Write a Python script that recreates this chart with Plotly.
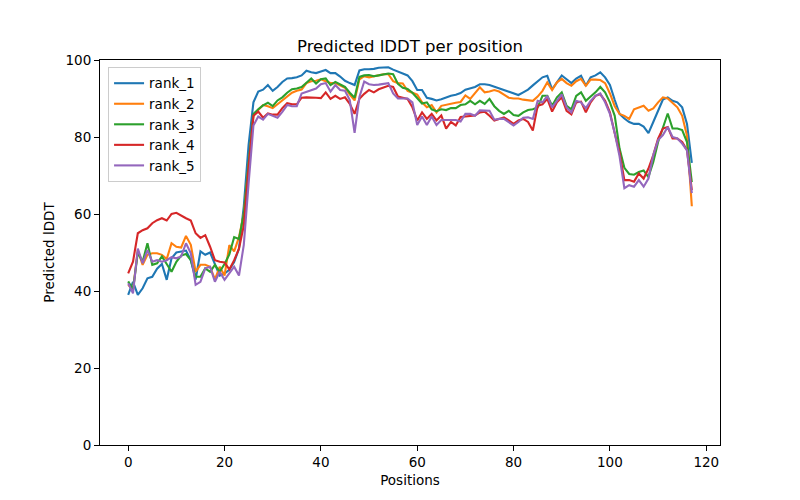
import plotly.graph_objects as go

positions = list(range(118))

rank_1 = [39.0, 42.4, 39.0, 40.7, 43.3, 43.7, 45.8, 47.0, 42.9, 48.5,
          50.0, 50.3, 50.5, 48.0, 43.0, 50.3, 49.4, 50.0, 47.0, 44.0,
          44.5, 45.5, 47.5, 51.0, 62.0, 78.0, 89.0, 91.8, 92.3, 93.5,
          92.0, 93.0, 94.3, 95.2, 95.3, 95.5, 96.0, 97.2, 96.8, 96.6,
          97.0, 97.4, 96.6, 96.6, 95.7, 94.6, 94.0, 93.5, 97.3, 97.6,
          97.6, 97.7, 98.0, 98.1, 98.1, 97.5, 97.0, 96.4, 96.0, 94.5,
          92.2, 92.2, 90.2, 89.9, 89.5, 89.8, 90.3, 90.7, 91.0, 91.4,
          92.3, 92.6, 93.0, 93.7, 93.7, 93.5, 93.1, 92.7, 92.3, 91.7,
          91.3, 90.9, 91.6, 92.3, 93.4, 94.4, 95.5, 95.9, 92.4, 94.2,
          96.0, 95.0, 94.0, 95.2, 95.9, 93.3, 95.5, 96.0, 96.8, 95.5,
          93.5, 89.6, 86.0, 84.8, 83.9, 83.4, 83.4, 82.7, 81.0, 83.9,
          86.9, 89.7, 90.3, 89.4, 89.0, 87.7, 83.4, 73.3]

rank_2 = [41.6, 40.3, 50.6, 46.8, 49.4, 49.8, 49.8, 49.4, 48.3, 52.4,
          51.5, 51.3, 54.3, 52.0, 45.0, 46.8, 46.8, 46.3, 43.0, 46.3,
          44.0, 51.9, 50.3, 54.0, 60.0, 73.0, 85.5, 87.0, 88.3, 88.0,
          87.5, 88.5, 89.5, 90.5, 91.5, 92.0, 92.3, 94.0, 94.5, 94.6,
          95.0, 94.5, 94.0, 94.0, 93.5, 92.8, 91.0, 89.5, 95.0, 95.8,
          95.5, 95.8, 96.0, 96.3, 96.3, 94.5, 94.0, 93.9, 92.0, 91.5,
          91.0, 89.0, 87.7, 88.3, 86.4, 88.1, 88.4, 88.6, 88.9, 89.1,
          90.8, 89.9, 91.5, 92.9, 91.6, 91.8, 92.2, 91.8, 91.0, 90.2,
          90.0, 90.0, 89.7, 89.5, 89.4, 90.5, 92.0, 94.2, 92.2, 94.2,
          95.1, 94.0, 93.3, 94.5, 95.1, 93.3, 94.9, 94.9, 94.8, 94.0,
          91.3, 88.0, 86.0, 85.5, 84.7, 87.2, 87.7, 88.1, 86.8, 87.4,
          89.0, 90.3, 90.0, 88.9, 87.7, 85.5, 80.3, 62.0]

rank_3 = [42.5, 40.3, 50.0, 47.6, 52.4, 46.8, 47.2, 49.0, 47.0, 45.0,
          47.6, 49.2, 49.6, 48.0, 43.7, 43.7, 45.9, 45.0, 46.8, 45.0,
          47.0, 49.5, 54.0, 53.5, 60.0, 74.0, 86.0, 87.2, 88.2, 88.9,
          88.0, 89.5, 90.3, 91.5, 92.4, 92.6, 93.0, 94.1, 95.2, 93.9,
          95.0, 95.2, 93.5, 94.3, 93.7, 93.0, 91.5, 90.2, 95.6, 96.0,
          96.1, 95.8, 96.0, 96.3, 96.5, 96.3, 93.8, 92.8, 92.5, 91.5,
          90.0, 88.7, 89.0, 87.2, 86.7, 87.2, 87.0, 87.5, 87.5, 88.3,
          88.5, 89.4, 88.5, 89.4, 88.6, 89.9, 88.0, 86.8, 86.0, 86.8,
          85.7, 85.5, 86.4, 87.0, 87.2, 87.7, 90.7, 90.7, 88.1, 90.3,
          91.6, 88.1, 87.2, 90.7, 91.6, 89.4, 90.5, 91.6, 93.0, 91.6,
          89.0, 85.5, 77.0, 72.0, 70.4, 70.2, 70.9, 71.3, 69.6, 73.5,
          78.7, 82.2, 86.1, 82.2, 82.2, 81.8, 78.7, 68.3]

rank_4 = [44.6, 47.6, 55.0, 55.8, 56.3, 57.6, 58.4, 58.9, 58.3, 60.0,
          60.3, 59.5, 58.9, 58.3, 55.0, 53.8, 54.5, 51.5, 48.0, 47.6,
          47.4, 45.6, 48.0, 51.0, 57.0, 72.0, 85.5, 86.6, 85.0, 86.1,
          85.8, 85.8, 87.5, 88.8, 88.5, 88.5, 90.2, 90.3, 90.3, 90.2,
          90.1, 91.6, 89.9, 90.7, 89.9, 90.3, 88.6, 86.0, 89.9, 91.2,
          92.2, 91.6, 92.4, 92.8, 93.3, 93.0, 90.5, 90.2, 89.9, 87.7,
          84.3, 86.4, 84.7, 86.0, 84.3, 85.6, 82.2, 83.9, 83.0, 85.2,
          85.3, 85.5, 85.6, 86.4, 86.6, 85.5, 84.3, 84.7, 85.1, 84.3,
          83.4, 84.3, 84.7, 83.9, 81.7, 88.1, 88.5, 89.9, 86.6, 89.0,
          90.3, 86.8, 85.9, 89.0, 89.2, 86.4, 89.0, 90.7, 91.1, 89.4,
          86.4, 81.0, 76.0, 68.8, 68.8, 68.4, 70.5, 69.2, 71.8, 75.3,
          79.6, 82.2, 82.6, 79.6, 79.6, 78.7, 76.6, 66.2]

rank_5 = [42.0, 39.4, 51.0, 47.2, 50.6, 47.6, 48.0, 47.6, 48.0, 48.8,
          48.5, 49.0, 52.4, 49.8, 41.6, 42.4, 45.9, 46.3, 42.4, 45.0,
          42.9, 44.5, 46.3, 44.0, 52.0, 68.0, 83.0, 85.3, 84.5, 86.0,
          85.5, 85.0, 86.5, 88.3, 88.0, 88.0, 91.3, 91.8, 92.2, 92.6,
          93.7, 94.0, 91.8, 93.5, 92.2, 92.0, 89.6, 81.1, 90.4, 94.4,
          93.7, 93.5, 93.6, 93.8, 94.0, 91.3, 90.0, 90.0, 90.0, 89.0,
          83.1, 85.3, 83.1, 85.3, 83.1, 84.4, 84.4, 84.5, 84.4, 84.0,
          86.0, 86.0, 85.5, 86.9, 86.9, 86.8, 84.5, 84.7, 84.7, 83.9,
          83.0, 83.9, 85.0, 85.1, 84.7, 89.4, 89.0, 90.7, 87.7, 89.4,
          91.1, 87.7, 86.4, 89.4, 89.0, 87.5, 89.4, 90.7, 91.3, 89.0,
          86.0, 81.0, 75.0, 66.7, 67.5, 67.1, 68.8, 67.1, 69.2, 75.3,
          79.2, 80.5, 82.6, 80.0, 79.6, 78.3, 76.5, 65.4]

series_names = ["rank_1", "rank_2", "rank_3", "rank_4", "rank_5"]
series_values = [rank_1, rank_2, rank_3, rank_4, rank_5]
colors = ["#1f77b4", "#ff7f0e", "#2ca02c", "#d62728", "#9467bd"]

x_ticks = [0, 20, 40, 60, 80, 100, 120]
y_ticks = [0, 20, 40, 60, 80, 100]

fig = go.Figure()
for name, vals, col in zip(series_names, series_values, colors):
    fig.add_trace(go.Scatter(x=positions, y=vals, mode="lines", name=name,
                             line=dict(color=col, width=2.1)))

n = positions[-1]
axis_common = dict(showline=True, linecolor="black", linewidth=1.1, mirror=True,
                   ticks="outside", ticklen=5, tickwidth=1.1, tickcolor="black",
                   showgrid=False, zeroline=False,
                   tickfont=dict(size=13.5, color="black"))

fig.update_layout(
    width=800, height=500,
    margin=dict(l=92, r=88, t=52, b=63),
    paper_bgcolor="white", plot_bgcolor="white",
    font=dict(family="DejaVu Sans", color="black"),
    title=dict(text="Predicted lDDT per position", x=0.5025, xanchor="center",
               y=0.924, yanchor="middle", font=dict(size=16.5, color="black")),
    xaxis=dict(range=[-0.05 * n, 1.05 * n], tickvals=x_ticks,
               title=dict(text="Positions", font=dict(size=13.5), standoff=6),
               **axis_common),
    yaxis=dict(range=[0, 100], tickvals=y_ticks,
               title=dict(text="Predicted lDDT", font=dict(size=13.5), standoff=7),
               **axis_common),
    legend=dict(x=0.013, y=0.982, xanchor="left", yanchor="top",
                bgcolor="rgba(255,255,255,0.8)", bordercolor="#cccccc", borderwidth=1,
                font=dict(size=13.5, color="black"), tracegroupgap=0,
                itemwidth=30),
    showlegend=True,
)

fig.write_html("out.html")
